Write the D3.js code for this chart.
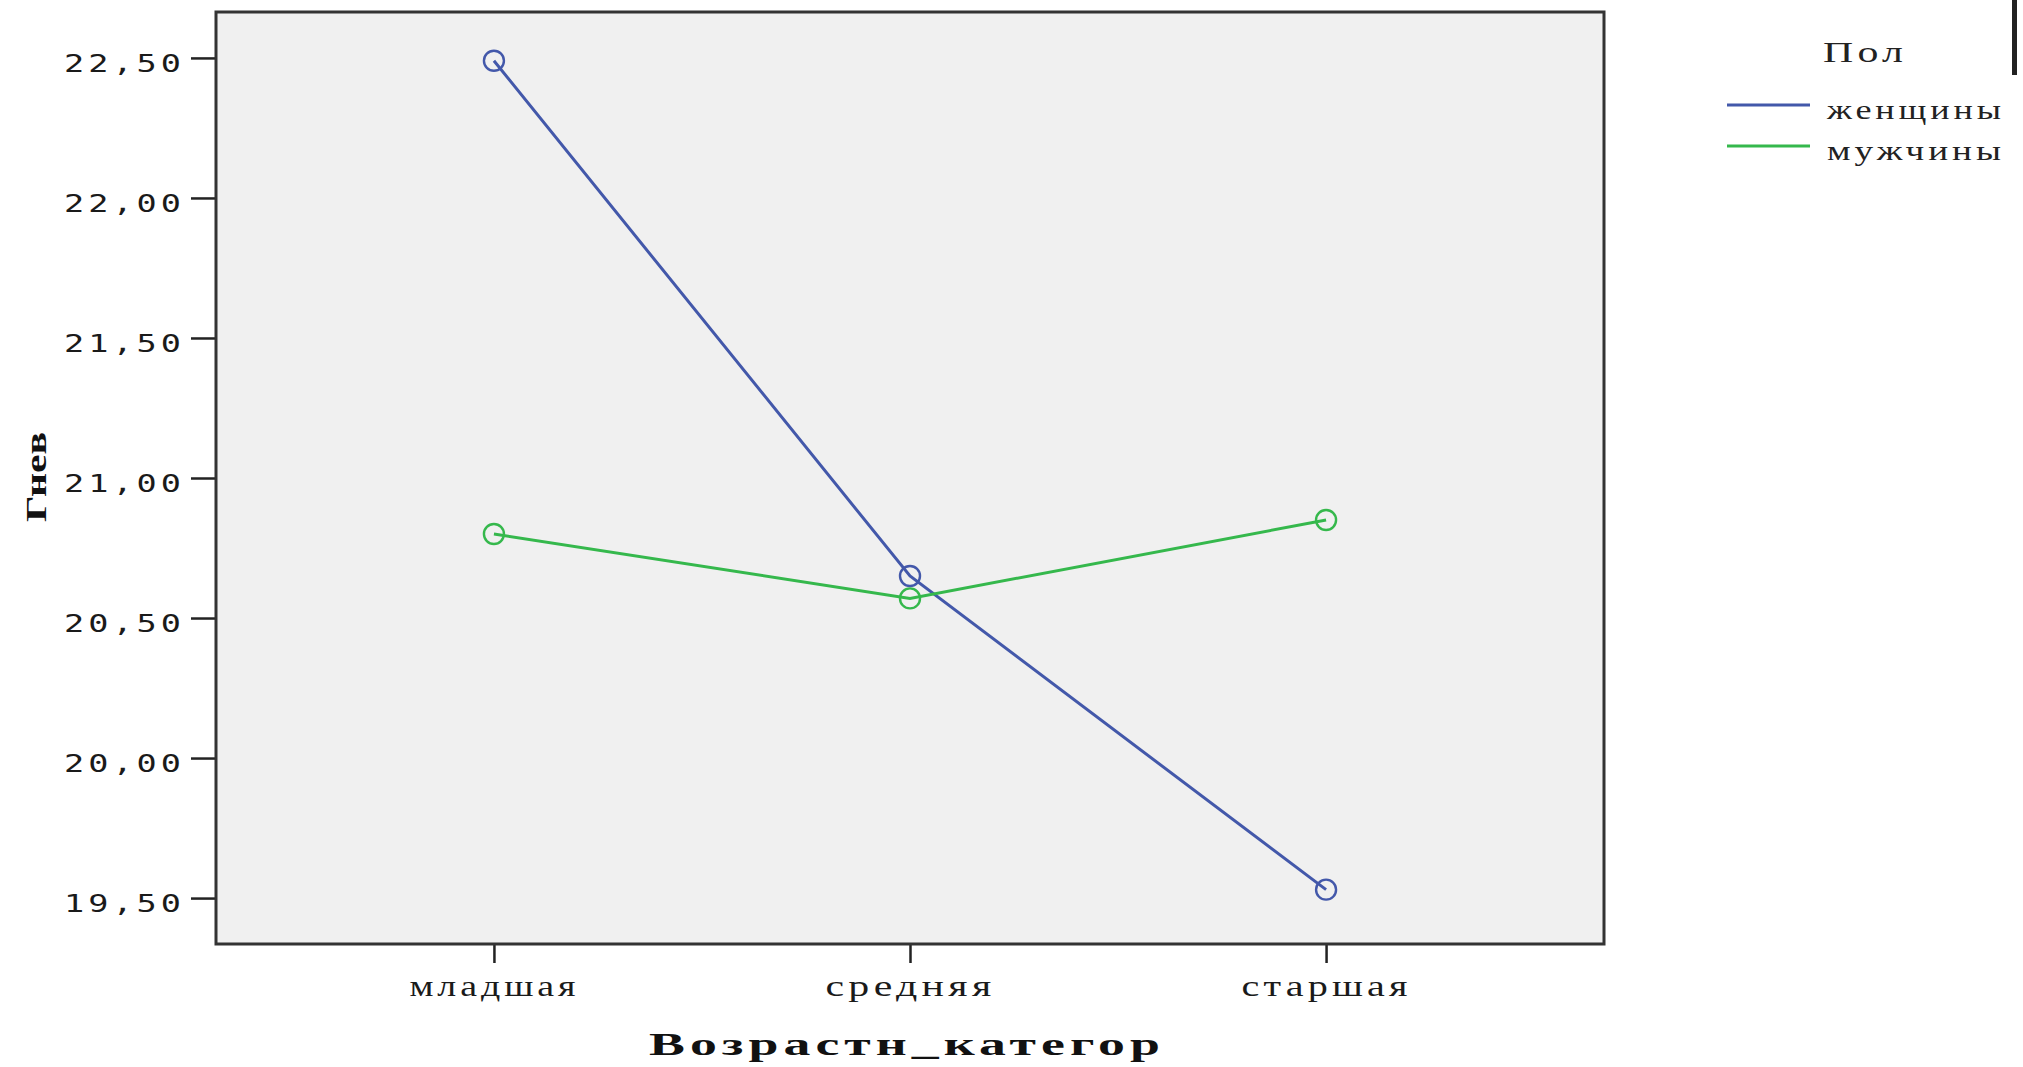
<!DOCTYPE html>
<html><head><meta charset="utf-8">
<script src="https://cdnjs.cloudflare.com/ajax/libs/d3/7.8.5/d3.min.js"></script>
<style>body{margin:0;background:#fff}svg{display:block}</style>
</head><body>
<svg id="chart" width="2023" height="1067"></svg>
<script>
const categories = ["младшая", "средняя", "старшая"];
const seriesNames = ["женщины", "мужчины"];
const womenValues = [22.49, 20.65, 19.53];
const menValues = [20.80, 20.57, 20.85];
const yTicks = [19.5, 20.0, 20.5, 21.0, 21.5, 22.0, 22.5];
const yTickLabels = ["19,50", "20,00", "20,50", "21,00", "21,50", "22,00", "22,50"];
const yDomain = [19.336, 22.664];
const colors = ["#4358AA", "#35B84C"];

const svg = d3.select("#chart");
const L = 216, R = 1604, T = 12, B = 944;

const x = d3.scalePoint().domain(categories).range([L, R]).padding(0.668);
const y = d3.scaleLinear().domain(yDomain).range([B, T]);

svg.append("rect").attr("x", L).attr("y", T).attr("width", R - L).attr("height", B - T)
  .attr("fill", "#F0F0F0");

// y axis
const ya = svg.append("g").attr("transform", `translate(${L},0)`)
  .call(d3.axisLeft(y).tickValues(yTicks).tickSize(25).tickSizeOuter(0)
    .tickFormat((d, i) => yTickLabels[i]));
ya.select(".domain").remove();
ya.selectAll("line").attr("stroke", "#222").attr("stroke-width", 2.5);
ya.selectAll("text").attr("text-anchor", "start").attr("x", 64 - L).attr("dy", "0.85em")
  .attr("y", -8)
  .attr("textLength", 121).attr("lengthAdjust", "spacingAndGlyphs")
  .style("font-family", "'DejaVu Sans Mono', monospace").style("font-size", "25px")
  .style("letter-spacing", "3px").attr("fill", "#1a1a1a");

// x axis
const xa = svg.append("g").attr("transform", `translate(0,${B})`)
  .call(d3.axisBottom(x).tickSize(19).tickSizeOuter(0));
xa.select(".domain").remove();
xa.selectAll("line").attr("stroke", "#222").attr("stroke-width", 2.5);
xa.selectAll("text").attr("y", 52).attr("dy", 0)
  .attr("textLength", d => d.length * 24.3).attr("lengthAdjust", "spacingAndGlyphs")
  .style("font-family", "'Liberation Serif', serif").style("font-size", "29px")
  .style("letter-spacing", "3px").attr("fill", "#1a1a1a");

// frame
svg.append("rect").attr("x", L).attr("y", T).attr("width", R - L).attr("height", B - T)
  .attr("fill", "none").attr("stroke", "#333").attr("stroke-width", 3);

// series
const series = [womenValues, menValues];
const line = d3.line().x((d, i) => x(categories[i])).y(d => y(d));
series.forEach((vals, s) => {
  svg.append("path").datum(vals).attr("d", line).attr("fill", "none")
    .attr("stroke", colors[s]).attr("stroke-width", 3);
  svg.selectAll(null).data(vals).enter().append("circle")
    .attr("cx", (d, i) => x(categories[i])).attr("cy", d => y(d)).attr("r", 10)
    .attr("fill", "none").attr("stroke", colors[s]).attr("stroke-width", 2.4);
});

// axis titles
svg.append("text").attr("x", 907).attr("y", 1055).attr("text-anchor", "middle")
  .attr("textLength", 516).attr("lengthAdjust", "spacingAndGlyphs")
  .style("font-family", "'Liberation Serif', serif").style("font-size", "32px").style("font-weight", "bold")
  .style("letter-spacing", "3px").attr("fill", "#111").text("Возрастн_категор");
svg.append("text").attr("transform", "translate(46,477) rotate(-90)").attr("text-anchor", "middle")
  .attr("textLength", 90).attr("lengthAdjust", "spacingAndGlyphs")
  .style("font-family", "'Liberation Serif', serif").style("font-size", "29px").style("font-weight", "bold")
  .attr("fill", "#111").text("Гнев");

// legend
svg.append("text").attr("x", 1823).attr("y", 62).attr("textLength", 84).attr("lengthAdjust", "spacingAndGlyphs")
  .style("font-family", "'Liberation Serif', serif").style("font-size", "30px")
  .style("letter-spacing", "3px").attr("fill", "#222").text("Пол");
const lg = svg.selectAll(".lg").data(seriesNames).enter().append("g")
  .attr("transform", (d, i) => `translate(0,${105 + i * 41})`);
lg.append("line").attr("x1", 1727).attr("x2", 1810).attr("y1", 0).attr("y2", 0)
  .attr("stroke", (d, i) => colors[i]).attr("stroke-width", 3);
lg.append("text").attr("x", 1827).attr("y", 14).attr("textLength", 178).attr("lengthAdjust", "spacingAndGlyphs")
  .style("font-family", "'Liberation Serif', serif").style("font-size", "28px")
  .style("letter-spacing", "3px").attr("fill", "#222").text(d => d);

// edge mark at top right
svg.append("rect").attr("x", 2012).attr("y", 0).attr("width", 5).attr("height", 75).attr("fill", "#222");
</script>
</body></html>
